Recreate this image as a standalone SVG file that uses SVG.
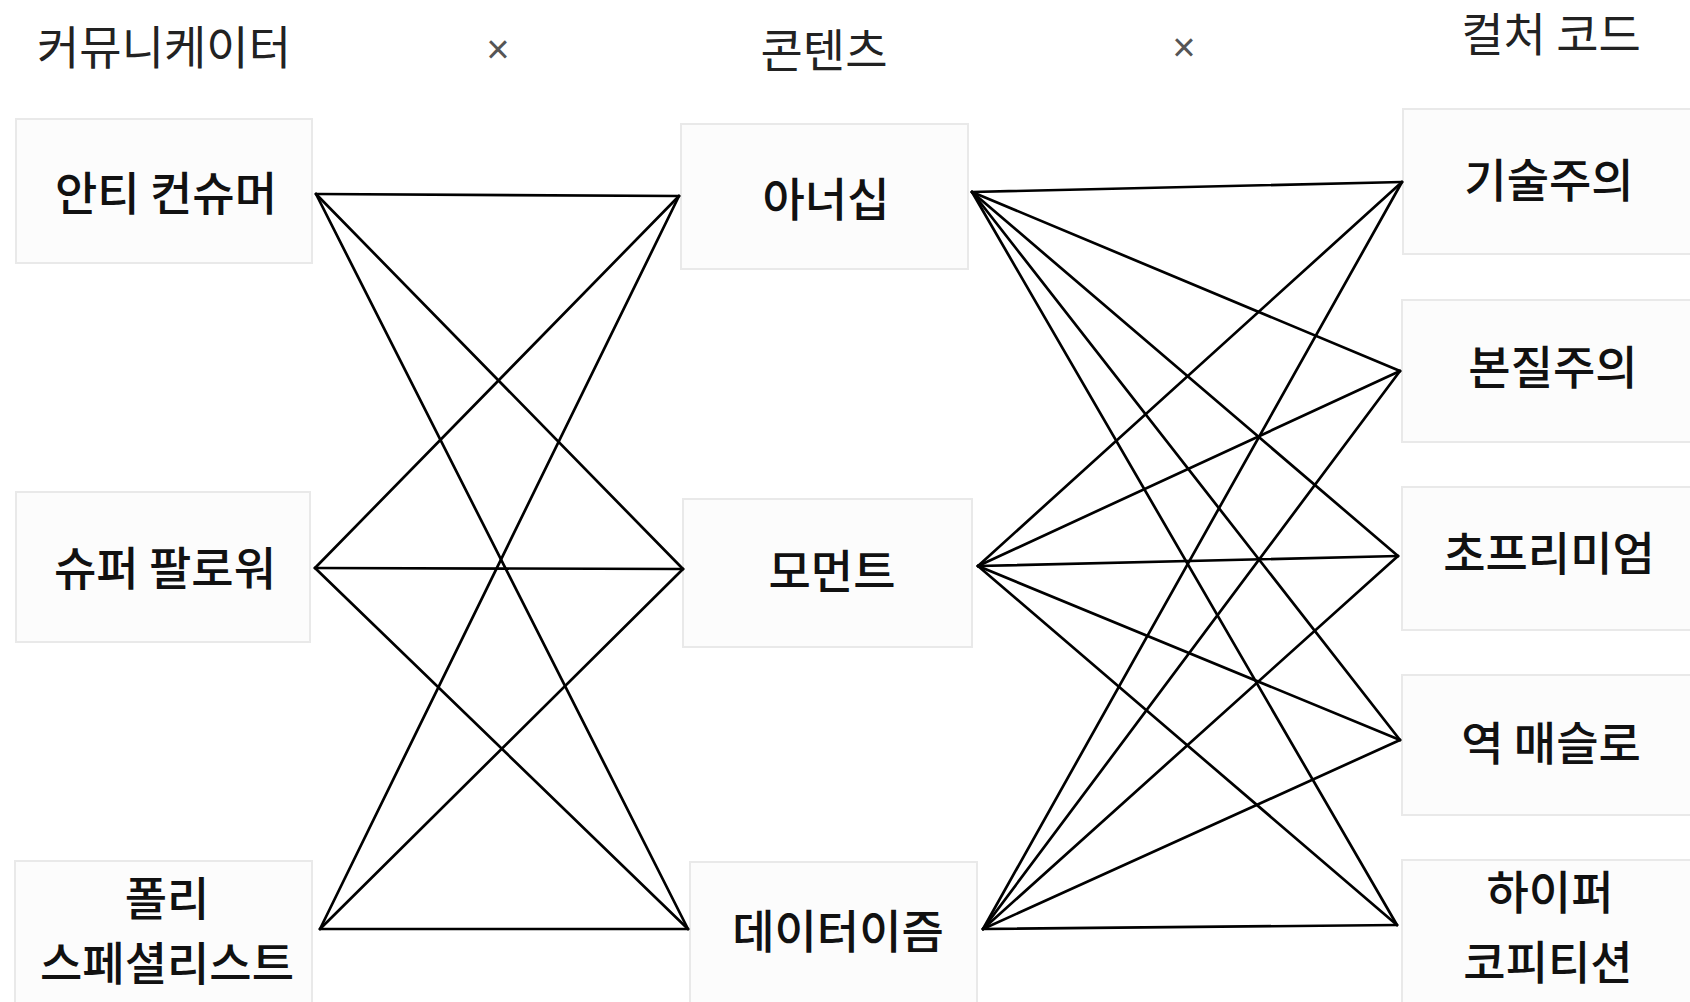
<svg xmlns="http://www.w3.org/2000/svg" width="1690" height="1002" viewBox="0 0 1690 1002">
<style>
.box{fill:#fcfcfc;stroke:#e9e9e9;stroke-width:2}
.hd{font-family:"Noto Sans CJK KR","Noto Sans",sans-serif;font-size:46px;fill:#222;text-anchor:middle}
.lb{font-family:"Noto Sans CJK KR","Noto Sans",sans-serif;font-size:46px;font-weight:500;fill:#111;text-anchor:middle}
.x{font-family:"Liberation Sans",sans-serif;font-size:40px;fill:#555;text-anchor:middle}
.cn line{stroke:#000;stroke-width:2.7;stroke-linecap:round}
</style>
<rect width="1690" height="1002" fill="#fff"/>
<g id="headers">
<text class="hd" x="164" y="64">커뮤니케이터</text>
<text class="x" x="498" y="63">×</text>
<text class="hd" x="824" y="67">콘텐츠</text>
<text class="x" x="1184" y="61">×</text>
<text class="hd" x="1551" y="51">컬처 코드</text>
</g>
<g id="anti-consumer"><rect class="box" x="16" y="119" width="296" height="144"/><text class="lb" x="166" y="210">안티 컨슈머</text></g>
<g id="super-follower"><rect class="box" x="16" y="492" width="294" height="150"/><text class="lb" x="165" y="585">슈퍼 팔로워</text></g>
<g id="poly-specialist"><rect class="box" x="15" y="861" width="297" height="150"/><text class="lb" x="167" y="915">폴리</text><text class="lb" x="167" y="980">스페셜리스트</text></g>
<g id="honorship"><rect class="box" x="681" y="124" width="287" height="145"/><text class="lb" x="826" y="216">아너십</text></g>
<g id="moment"><rect class="box" x="683" y="499" width="289" height="148"/><text class="lb" x="832" y="588">모먼트</text></g>
<g id="dataism"><rect class="box" x="690" y="862" width="287" height="150"/><text class="lb" x="838" y="948">데이터이즘</text></g>
<g id="technism"><rect class="box" x="1403" y="109" width="297" height="145"/><text class="lb" x="1549" y="197">기술주의</text></g>
<g id="essentialism"><rect class="box" x="1402" y="300" width="298" height="142"/><text class="lb" x="1553" y="384">본질주의</text></g>
<g id="ultra-premium"><rect class="box" x="1402" y="487" width="298" height="143"/><text class="lb" x="1549" y="570">초프리미엄</text></g>
<g id="reverse-maslow"><rect class="box" x="1402" y="675" width="298" height="140"/><text class="lb" x="1551" y="760">역 매슬로</text></g>
<g id="hyper-competition"><rect class="box" x="1402" y="860" width="298" height="152"/><text class="lb" x="1550" y="909">하이퍼</text><text class="lb" x="1548" y="979">코피티션</text></g>
<g id="connectors" class="cn">
<line x1="316" y1="194" x2="679" y2="196"/>
<line x1="316" y1="194" x2="683" y2="569"/>
<line x1="316" y1="194" x2="688" y2="929"/>
<line x1="315" y1="568" x2="679" y2="196"/>
<line x1="315" y1="568" x2="683" y2="569"/>
<line x1="315" y1="568" x2="688" y2="929"/>
<line x1="320" y1="929" x2="679" y2="196"/>
<line x1="320" y1="929" x2="683" y2="569"/>
<line x1="320" y1="929" x2="688" y2="929"/>
<line x1="972" y1="192" x2="1402" y2="182"/>
<line x1="972" y1="192" x2="1400" y2="371"/>
<line x1="972" y1="192" x2="1398" y2="556"/>
<line x1="972" y1="192" x2="1400" y2="740"/>
<line x1="972" y1="192" x2="1397" y2="925"/>
<line x1="978" y1="566" x2="1402" y2="182"/>
<line x1="978" y1="566" x2="1400" y2="371"/>
<line x1="978" y1="566" x2="1398" y2="556"/>
<line x1="978" y1="566" x2="1400" y2="740"/>
<line x1="978" y1="566" x2="1397" y2="925"/>
<line x1="983" y1="929" x2="1402" y2="182"/>
<line x1="983" y1="929" x2="1400" y2="371"/>
<line x1="983" y1="929" x2="1398" y2="556"/>
<line x1="983" y1="929" x2="1400" y2="740"/>
<line x1="983" y1="929" x2="1397" y2="925"/>
</g>
</svg>
